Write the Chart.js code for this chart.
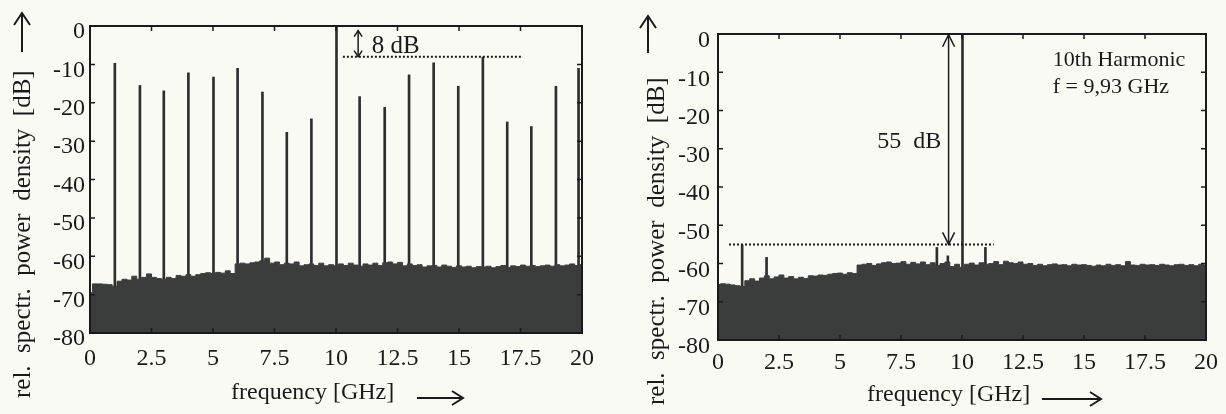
<!DOCTYPE html>
<html><head><meta charset="utf-8">
<script src="https://cdn.jsdelivr.net/npm/chart.js@4.4.0/dist/chart.umd.min.js"></script>
<style>
html,body{margin:0;padding:0;background:#fafaf5;}
#wrap{position:relative;width:1226px;height:414px;overflow:hidden;background:#fafaf5;}
canvas{position:absolute;top:0;}
</style></head><body>
<div id="wrap">
<canvas id="left" width="630" height="414" style="left:0"></canvas>
<canvas id="right" width="596" height="414" style="left:630px"></canvas>
</div>
<script>
// ---------- data ----------
const freqGrid = [0,0.2,0.4,0.6,0.8,1,1.2,1.4,1.6,1.8,2,2.2,2.4,2.6,2.8,3,3.2,3.4,3.6,3.8,4,4.2,4.4,4.6,4.8,5,5.2,5.4,5.6,5.8,6,6.2,6.4,6.6,6.8,7,7.2,7.4,7.6,7.8,8,8.2,8.4,8.6,8.8,9,9.2,9.4,9.6,9.8,10,10.2,10.4,10.6,10.8,11,11.2,11.4,11.6,11.8,12,12.2,12.4,12.6,12.8,13,13.2,13.4,13.6,13.8,14,14.2,14.4,14.6,14.8,15,15.2,15.4,15.6,15.8,16,16.2,16.4,16.6,16.8,17,17.2,17.4,17.6,17.8,18,18.2,18.4,18.6,18.8,19,19.2,19.4,19.6,19.8,20];

// left panel: noise floor (dB) on freqGrid
const leftNoise = [-69.5,-67.2,-67.2,-67.3,-67.4,-67.8,-66.5,-66.0,-66.2,-65.2,-66.0,-65.5,-64.6,-65.5,-65.8,-66.0,-65.5,-65.8,-65.0,-65.2,-64.8,-65.2,-64.8,-64.5,-64.3,-64.5,-64.2,-64.4,-63.8,-64.5,-62.0,-61.8,-62.0,-61.7,-61.5,-61.2,-60.5,-61.8,-61.5,-62.2,-61.8,-62.0,-61.5,-62.5,-62.2,-62.0,-62.4,-61.8,-62.5,-62.2,-62.5,-62.0,-62.4,-61.8,-62.3,-62.6,-62.0,-62.3,-61.8,-62.4,-61.7,-61.5,-62.0,-61.6,-62.5,-62.0,-62.4,-62.2,-62.8,-62.5,-62.4,-62.8,-62.3,-62.6,-62.9,-62.5,-62.8,-62.6,-63.0,-62.7,-62.8,-62.6,-63.0,-62.7,-62.4,-62.9,-62.5,-62.7,-62.3,-62.6,-62.4,-62.7,-62.5,-62.3,-62.6,-62.2,-62.5,-62.3,-62.0,-62.4,-62.2];
// left panel: harmonic lines
const leftLineFreq  = [1.01,2.03,3.0,4.0,5.02,6.0,7.01,8.0,9.0,10.02,10.96,11.98,12.97,13.97,14.97,15.97,16.96,17.94,18.94,19.86];
const leftLineLevel = [-9.7,-15.5,-16.9,-12.2,-13.3,-11.0,-17.2,-27.7,-24.2,0,-18.4,-21.2,-12.7,-9.6,-15.7,-8.1,-25.0,-26.2,-15.7,-11.0];

// right panel: noise floor (dB) on freqGrid
const rightNoise = [-65.5,-65.3,-65.4,-65.6,-65.8,-66.0,-64.5,-64.0,-64.6,-63.8,-63.2,-64.0,-63.5,-63.0,-63.8,-63.4,-64.0,-63.6,-63.9,-63.2,-63.3,-63.0,-63.1,-62.8,-62.6,-62.5,-62.8,-62.4,-62.6,-60.4,-60.2,-60.0,-60.5,-60.1,-59.8,-59.6,-60.0,-59.9,-59.5,-60.2,-59.7,-60.1,-59.6,-60.3,-59.8,-60.5,-60.0,-59.6,-60.8,-60.2,-61.0,-60.2,-59.9,-60.4,-59.8,-60.2,-60.0,-59.5,-60.3,-59.4,-59.8,-60.0,-59.6,-60.2,-60.0,-60.5,-60.2,-60.6,-60.3,-60.1,-60.4,-60.3,-60.6,-60.2,-60.4,-60.3,-60.5,-60.7,-60.4,-60.6,-60.2,-60.5,-60.3,-60.6,-59.5,-60.4,-60.5,-60.2,-60.4,-60.3,-60.5,-60.2,-60.4,-60.6,-60.3,-60.2,-60.5,-60.3,-60.6,-60.2,-60.4];
// right panel: spectral lines
const rightLineFreq  = [0.99,1.99,8.97,9.42,10.02,10.96];
const rightLineLevel = [-55.2,-58.4,-55.8,-58.0,0,-55.8];

// ticks
const xTickValues = [0,2.5,5,7.5,10,12.5,15,17.5,20];
const xTickLabels = ['0','2.5','5','7.5','10','12.5','15','17.5','20'];
const yTickValues = [0,-10,-20,-30,-40,-50,-60,-70,-80];
const yTickLabels = ['0','-10','-20','-30','-40','-50','-60','-70','-80'];

// annotations (data units)
const leftRef   = {level: -8, from: 10.28, to: 17.6, arrowX: 10.9, arrowTop: -1.2, label: '8 dB', labelX: 11.45, labelY: -5.3};
const rightRef  = {level: -55, from: 0.45, to: 11.3, arrowX: 9.45, arrowTop: -0.2, label: '55  dB', labelX: 9.15, labelY: -28.2};
const rightNote = ['10th Harmonic', 'f = 9,93 GHz'];
const rightNoteX = 13.72, rightNoteY = [-6.8, -13.9];

const yTitle = 'rel.  spectr.  power  density  [dB]';
const xTitle = 'frequency [GHz]';

// ---------- style ----------
const INK = '#1a1a1a';
const LINE = '#2e2e2e';
const FILL = '#3a3d3b';
const FONT = '"Liberation Serif", "Times New Roman", serif';

function arrowHead(ctx, x, y, dx, dy, len, half) {
  const px = -dy, py = dx;
  ctx.beginPath();
  ctx.moveTo(x - dx*len + px*half, y - dy*len + py*half);
  ctx.lineTo(x, y);
  ctx.lineTo(x - dx*len - px*half, y - dy*len - py*half);
  ctx.stroke();
}

const decor = {
  id: 'decor',
  afterDatasetsDraw(chart, args, o) {
    const {ctx, chartArea: a} = chart;
    const xs = chart.scales.x, ys = chart.scales.y;
    ctx.save();
    ctx.strokeStyle = INK; ctx.fillStyle = INK;
    ctx.lineWidth = 2;
    ctx.strokeRect(a.left, a.top, a.right - a.left, a.bottom - a.top);
    ctx.lineWidth = 1.5;
    ctx.beginPath();
    xs.ticks.forEach(t => { const p = xs.getPixelForValue(t.value);
      ctx.moveTo(p, a.top); ctx.lineTo(p, a.top + 5);
      ctx.moveTo(p, a.bottom); ctx.lineTo(p, a.bottom - 5); });
    ys.ticks.forEach(t => { const p = ys.getPixelForValue(t.value);
      ctx.moveTo(a.left, p); ctx.lineTo(a.left + 5, p);
      ctx.moveTo(a.right, p); ctx.lineTo(a.right - 5, p); });
    ctx.stroke();

    const r = o.ref;
    ctx.lineWidth = 2;
    ctx.setLineDash([2, 2]);
    ctx.beginPath();
    ctx.moveTo(xs.getPixelForValue(r.from), ys.getPixelForValue(r.level));
    ctx.lineTo(xs.getPixelForValue(r.to), ys.getPixelForValue(r.level));
    ctx.stroke();
    ctx.setLineDash([]);
    const ax = xs.getPixelForValue(r.arrowX);
    const aTop = ys.getPixelForValue(r.arrowTop), aBot = ys.getPixelForValue(r.level);
    ctx.lineWidth = 1.5;
    ctx.beginPath(); ctx.moveTo(ax, aTop); ctx.lineTo(ax, aBot); ctx.stroke();
    arrowHead(ctx, ax, aTop, 0, -1, o.headLen, o.headHalf);
    arrowHead(ctx, ax, aBot, 0, 1, o.headLen, o.headHalf);
    ctx.font = o.refFont + ' ' + FONT;
    ctx.textBaseline = 'middle';
    ctx.textAlign = o.refAlign;
    ctx.fillText(r.label, xs.getPixelForValue(r.labelX), ys.getPixelForValue(r.labelY));
    if (o.notes) {
      ctx.font = '22px ' + FONT; ctx.textAlign = 'left';
      o.notes.text.forEach((t, i) => ctx.fillText(t, xs.getPixelForValue(o.notes.x), ys.getPixelForValue(o.notes.y[i])));
    }

    ctx.font = '24px ' + FONT; ctx.textAlign = 'left'; ctx.textBaseline = 'middle';
    ctx.fillText(xTitle, o.xTitle.x, o.xTitle.y);
    ctx.lineWidth = 2;
    ctx.beginPath(); ctx.moveTo(o.xTitle.ax0, o.xTitle.ay); ctx.lineTo(o.xTitle.ax1, o.xTitle.ay); ctx.stroke();
    arrowHead(ctx, o.xTitle.ax1, o.xTitle.ay, 1, 0, 11, 7);

    ctx.save();
    ctx.translate(o.yTitle.x, o.yTitle.y);
    ctx.rotate(-Math.PI / 2);
    ctx.font = '25px ' + FONT; ctx.textAlign = 'left'; ctx.textBaseline = 'alphabetic';
    ctx.fillText(yTitle, 0, 0);
    ctx.restore();
    ctx.lineWidth = 2;
    ctx.beginPath(); ctx.moveTo(o.yTitle.ax, o.yTitle.ay0); ctx.lineTo(o.yTitle.ax, o.yTitle.ay1); ctx.stroke();
    arrowHead(ctx, o.yTitle.ax, o.yTitle.ay1, 0, -1, 12, 8);
    ctx.restore();
  }
};

function makeChart(id, noise, lineF, lineL, lay, dec) {
  return new Chart(document.getElementById(id), {
    type: 'bar',
    data: {
      datasets: [
        { type: 'line', data: freqGrid.map((f, i) => ({x: f, y: noise[i]})),
          stepped: 'middle', fill: 'start', borderColor: FILL, backgroundColor: FILL,
          borderWidth: 1, pointRadius: 0, order: 1 },
        { type: 'bar', data: lineF.map((f, i) => ({x: f, y: lineL[i]})),
          base: -80, barThickness: 2, backgroundColor: LINE, borderWidth: 0, order: 2 }
      ]
    },
    options: {
      responsive: false, animation: false, devicePixelRatio: 1,
      layout: { padding: lay.padding },
      plugins: { legend: {display: false}, tooltip: {enabled: false}, decor: dec },
      scales: {
        x: { type: 'linear', min: 0, max: 20, offset: false,
             grid: {display: false, drawTicks: false, offset: false}, border: {display: false},
             ticks: { color: INK, font: {family: FONT, size: 24}, padding: lay.xPad, maxRotation: 0, autoSkip: false,
                      callback: (v, i) => xTickLabels[i] },
             afterBuildTicks: s => { s.ticks = xTickValues.map(v => ({value: v})); },
             afterFit: s => { s.height = lay.xh; } },
        y: { type: 'linear', min: -80, max: 0,
             grid: {display: false, drawTicks: false}, border: {display: false},
             ticks: { color: INK, font: {family: FONT, size: 24}, padding: lay.yPad, labelOffset: lay.yOff, autoSkip: false,
                      callback: (v, i) => yTickLabels[i] },
             afterBuildTicks: s => { s.ticks = yTickValues.map(v => ({value: v})); },
             afterFit: s => { s.width = lay.yw; } }
      }
    },
    plugins: [decor]
  });
}

makeChart('left', leftNoise, leftLineFreq, leftLineLevel,
  { padding: {top: 26, right: 48, bottom: 0, left: 0}, xh: 81, yw: 90, xPad: 11, yPad: 5, yOff: 6 },
  { ref: leftRef, headLen: 6, headHalf: 4, refFont: '25px', refAlign: 'left',
    xTitle: {x: 231, y: 393, ax0: 417, ax1: 463, ay: 398},
    yTitle: {x: 30, y: 398, ax: 22, ay0: 52, ay1: 13} });

makeChart('right', rightNoise, rightLineFreq, rightLineLevel,
  { padding: {top: 34, right: 14, bottom: 0, left: 0}, xh: 74, yw: 88, xPad: 8, yPad: 8, yOff: 7 },
  { ref: rightRef, headLen: 12, headHalf: 6, refFont: '24px', refAlign: 'right',
    notes: {text: rightNote, x: rightNoteX, y: rightNoteY},
    xTitle: {x: 237, y: 395, ax0: 412, ax1: 471, ay: 399},
    yTitle: {x: 34, y: 405, ax: 18, ay0: 53, ay1: 16} });
</script>
</body></html>
